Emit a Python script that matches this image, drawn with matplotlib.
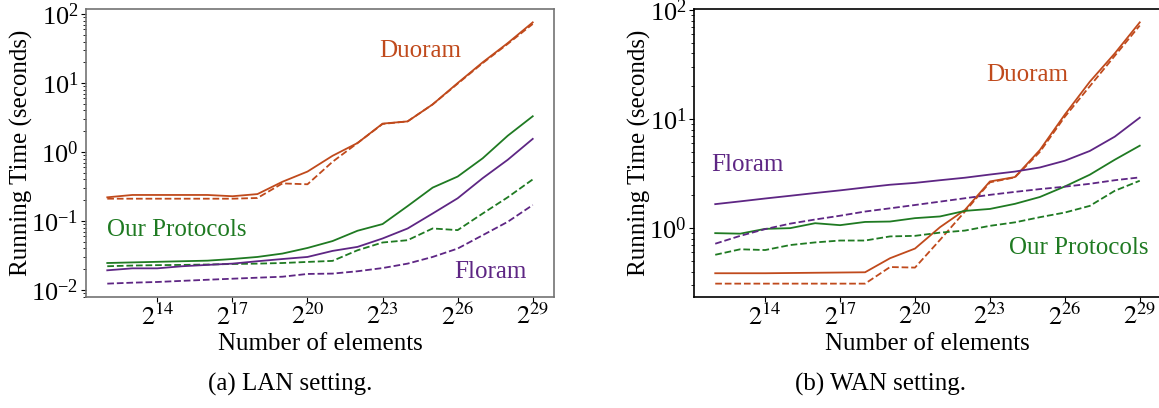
import matplotlib
matplotlib.use("Agg")
import matplotlib.pyplot as plt
import matplotlib.ticker as mticker

plt.rcParams['font.family'] = ['Liberation Serif', 'DejaVu Serif']
plt.rcParams['mathtext.fontset'] = 'stix'

# log2 of the number of elements
exps = list(range(12, 30))
xticks_exp = [14, 17, 20, 23, 26, 29]

# LAN setting (seconds)
duoram_lan = [0.22, 0.238, 0.238, 0.238, 0.238, 0.228, 0.245, 0.37, 0.52, 0.88,
              1.35, 2.58, 2.78, 4.9, 10, 20, 38, 76]
duoram_lan_d = [0.21, 0.21, 0.21, 0.21, 0.21, 0.21, 0.215, 0.35, 0.34, 0.72,
                1.35, 2.55, 2.78, 4.9, 9.8, 19.5, 37, 72]
ours_lan = [0.0245, 0.025, 0.0255, 0.026, 0.0265, 0.028, 0.030, 0.0336, 0.0405, 0.051,
            0.072, 0.09, 0.164, 0.304, 0.44, 0.81, 1.72, 3.3]
ours_lan_d = [0.022, 0.0225, 0.0228, 0.023, 0.0233, 0.0237, 0.024, 0.0245, 0.0254, 0.0263,
              0.0375, 0.0486, 0.0525, 0.0777, 0.0735, 0.128, 0.22, 0.4]
floram_lan = [0.0192, 0.0205, 0.0205, 0.022, 0.023, 0.024, 0.026, 0.028, 0.030, 0.0367,
              0.042, 0.0556, 0.0776, 0.128, 0.213, 0.417, 0.77, 1.55]
floram_lan_d = [0.0123, 0.0127, 0.013, 0.0135, 0.014, 0.0145, 0.015, 0.0155, 0.017, 0.0172,
                0.0186, 0.0207, 0.024, 0.030, 0.0397, 0.062, 0.097, 0.17]

# WAN setting (seconds)
duoram_wan = [0.386, 0.386, 0.386, 0.388, 0.39, 0.392, 0.394, 0.53, 0.65, 1.02,
              1.47, 2.68, 2.94, 5.2, 11, 22, 40, 77]
duoram_wan_d = [0.31, 0.31, 0.31, 0.31, 0.31, 0.31, 0.31, 0.44, 0.435, 0.78,
                1.42, 2.63, 2.92, 5.0, 10.5, 20, 38, 72]
ours_wan = [0.90, 0.89, 0.985, 1.0, 1.11, 1.065, 1.14, 1.15, 1.235, 1.28,
            1.44, 1.5, 1.67, 1.93, 2.41, 3.09, 4.24, 5.7]
ours_wan_d = [0.57, 0.64, 0.63, 0.70, 0.74, 0.77, 0.77, 0.84, 0.85, 0.91,
              0.95, 1.05, 1.13, 1.26, 1.39, 1.6, 2.2, 2.72]
floram_wan = [1.66, 1.76, 1.87, 1.98, 2.1, 2.22, 2.36, 2.5, 2.6, 2.75,
              2.9, 3.1, 3.3, 3.6, 4.15, 5.1, 6.9, 10.3]
floram_wan_d = [0.72, 0.85, 0.98, 1.1, 1.2, 1.3, 1.42, 1.52, 1.63, 1.75,
                1.88, 2.02, 2.15, 2.28, 2.4, 2.55, 2.75, 2.92]

C_DUO = '#c04a1c'
C_OURS = '#1f7a22'
C_FLO = '#5e2684'
FS = 18


def draw(ax, series, spine_color):
    n = [2 ** e for e in exps]
    for vals, col, ls in series:
        ax.plot(n, vals, color=col, linestyle=ls, linewidth=1.3)
    ax.set_xscale('log', base=2)
    ax.set_yscale('log')
    ax.set_xticks([2 ** e for e in xticks_exp])
    ax.set_xticklabels([r'$2^{%d}$' % e for e in xticks_exp])
    ax.xaxis.set_minor_locator(mticker.NullLocator())
    ax.tick_params(labelsize=19)
    ax.tick_params(axis='x', pad=1.5)
    ax.tick_params(axis='y', pad=2)
    ax.set_xlabel('Number of elements', fontsize=FS, labelpad=2)
    ax.set_ylabel('Running Time (seconds)', fontsize=FS, labelpad=-1)
    for s in ax.spines.values():
        s.set_color(spine_color)
        s.set_linewidth(1.2)


def main():
    fig = plt.figure(figsize=(11.59, 4.08), dpi=100)

    ax1 = fig.add_axes([0.0742, 0.2728, 0.4038, 0.7044])
    draw(ax1, [(duoram_lan, C_DUO, '-'), (duoram_lan_d, C_DUO, '--'),
               (ours_lan, C_OURS, '-'), (ours_lan_d, C_OURS, '--'),
               (floram_lan, C_FLO, '-'), (floram_lan_d, C_FLO, '--')], '0.45')
    ax1.text(2 ** 24.5, 29, 'Duoram', color=C_DUO, fontsize=FS, ha='center', va='center')
    ax1.text(2 ** 12.0, 0.075, 'Our Protocols', color=C_OURS, fontsize=FS, ha='left', va='center')
    ax1.text(2 ** 27.3, 0.018, 'Floram', color=C_FLO, fontsize=FS, ha='center', va='center')

    ax2 = fig.add_axes([0.5988, 0.2728, 0.4029, 0.7044])
    draw(ax2, [(duoram_wan, C_DUO, '-'), (duoram_wan_d, C_DUO, '--'),
               (ours_wan, C_OURS, '-'), (ours_wan_d, C_OURS, '--'),
               (floram_wan, C_FLO, '-'), (floram_wan_d, C_FLO, '--')], 'black')
    ax2.text(2 ** 24.5, 25.6, 'Duoram', color=C_DUO, fontsize=FS, ha='center', va='center')
    ax2.text(2 ** 13.3, 3.82, 'Floram', color=C_FLO, fontsize=FS, ha='center', va='center')
    ax2.text(2 ** 26.56, 0.655, 'Our Protocols', color=C_OURS, fontsize=FS, ha='center', va='center')

    # sub-captions under each panel
    fig.text(0.250, 0.058, '(a) LAN setting.', fontsize=FS, ha='center', va='center')
    fig.text(0.760, 0.058, '(b) WAN setting.', fontsize=FS, ha='center', va='center')

    fig.savefig('out.png', dpi=100)


if __name__ == "__main__":
    main()
